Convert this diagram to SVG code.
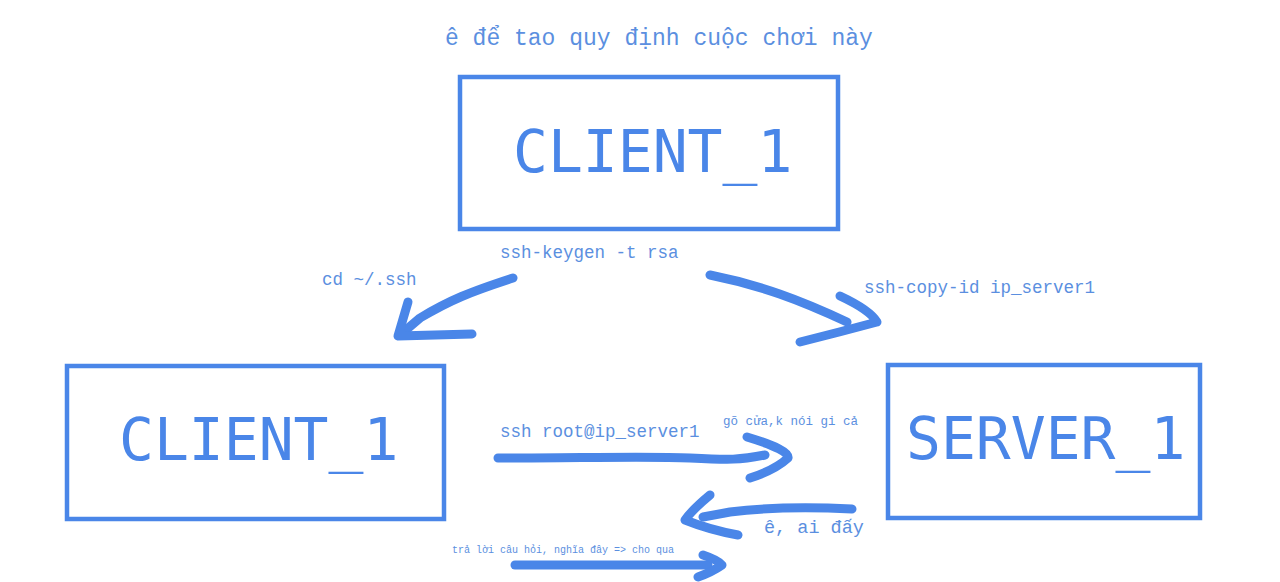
<svg xmlns="http://www.w3.org/2000/svg" width="1280" height="582" viewBox="0 0 1280 582">
<style>
.box{fill:none;stroke:#4a86e8;stroke-width:4.5}
.big{font-family:"DejaVu Sans Mono","Liberation Mono",monospace;font-size:58px;fill:#4a86e8}
.lbl{font-family:"Liberation Mono","DejaVu Sans Mono",monospace;fill:#5b8fe0}
.stroke{fill:none;stroke:#4a86e8;stroke-width:9;stroke-linecap:round;stroke-linejoin:round}
</style>
<rect width="1280" height="582" fill="#ffffff"/>
<text class="lbl" x="445" y="45" font-size="23">ê để tao quy định cuộc chơi này</text>
<g id="client_top">
<rect class="box" x="460" y="77" width="378" height="152"/>
<text class="big" x="513" y="172">CLIENT_1</text>
</g>
<g id="client_left">
<rect class="box" x="67" y="366" width="377" height="153"/>
<text class="big" x="119" y="460">CLIENT_1</text>
</g>
<g id="server">
<rect class="box" x="888" y="365" width="312" height="153"/>
<text class="big" x="906" y="459">SERVER_1</text>
</g>
<g id="connectors">
<path class="stroke" d="M513,278 C470,292 450,300 420,318 L400,335"/>
<path class="stroke" d="M408,302 L398,336 L472,334"/>
<path class="stroke" d="M710,275 C760,285 800,300 847,322"/>
<path class="stroke" d="M840,296 Q870,310 877,322 Q840,332 800,342"/>
<path class="stroke" d="M498,458 C580,458 650,456 690,458 S740,460 765,455"/>
<path class="stroke" d="M747,437 Q790,450 788,458 Q775,470 750,478"/>
<path class="stroke" d="M852,509 C810,507 770,507 730,512 L703,517"/>
<path class="stroke" d="M710,495 Q692,510 685,520 Q710,530 738,535"/>
<path class="stroke" d="M515,565 L708,565"/>
<path class="stroke" d="M703,555 Q718,560 722,565 Q712,572 698,577"/>
</g>
<g id="labels">
<text class="lbl" x="500" y="258" font-size="17.5">ssh-keygen -t rsa</text>
<text class="lbl" x="322" y="285" font-size="17.5">cd ~/.ssh</text>
<text class="lbl" x="864" y="293" font-size="17.5">ssh-copy-id ip_server1</text>
<text class="lbl" x="500" y="437" font-size="17.5">ssh root@ip_server1</text>
<text class="lbl" x="723" y="425" font-size="12.5">gõ cửa,k nói gi cả</text>
<text class="lbl" x="764" y="533" font-size="18.5">ê, ai đấy</text>
<text class="lbl" x="452" y="553" font-size="10">trả lời câu hỏi, nghĩa đây =&gt; cho qua</text>
</g>
</svg>
